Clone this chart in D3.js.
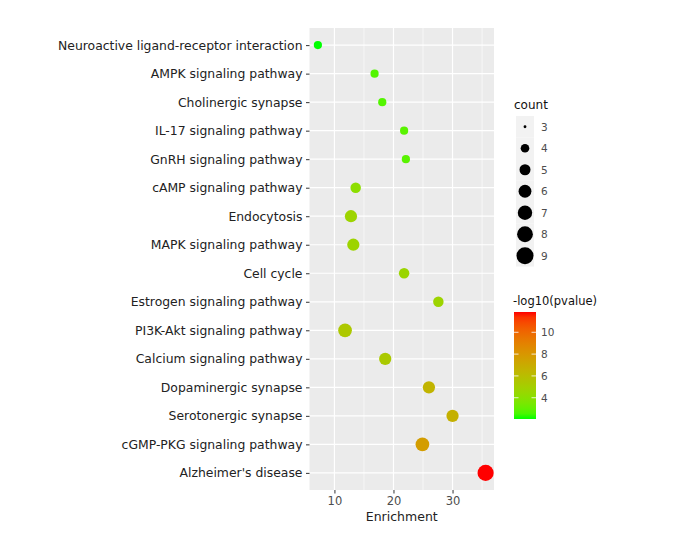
<!DOCTYPE html>
<html>
<head>
<meta charset="utf-8">
<script src="https://cdn.jsdelivr.net/npm/d3@7"></script>
<style>
html,body{margin:0;padding:0;background:#fff;}
svg{display:block;font-family:"DejaVu Sans",sans-serif;}
</style>
</head>
<body>
<svg id="chart" width="700" height="545"></svg>
<script>
// ---- data ----
const pathways = [
  "Neuroactive ligand-receptor interaction",
  "AMPK signaling pathway",
  "Cholinergic synapse",
  "IL-17 signaling pathway",
  "GnRH signaling pathway",
  "cAMP signaling pathway",
  "Endocytosis",
  "MAPK signaling pathway",
  "Cell cycle",
  "Estrogen signaling pathway",
  "PI3K-Akt signaling pathway",
  "Calcium signaling pathway",
  "Dopaminergic synapse",
  "Serotonergic synapse",
  "cGMP-PKG signaling pathway",
  "Alzheimer's disease"
];
const enrichment = [7.2, 16.8, 18.1, 21.8, 22.1, 13.6, 12.8, 13.2, 21.8, 27.6, 11.8, 18.6, 26.0, 30.0, 24.9, 35.6];
const counts     = [4, 4, 4, 4, 4, 5, 6, 6, 5, 5, 7, 6, 6, 6, 7, 9];
const neglogp    = [2.05, 2.7, 2.7, 2.8, 2.8, 4.1, 4.7, 4.7, 4.6, 4.7, 5.4, 5.3, 6.5, 6.7, 7.7, 11.86];
const xTicks     = [10, 20, 30];
const countBreaks = [3, 4, 5, 6, 7, 8, 9];
const colorBreaks = [4, 6, 8, 10];

const svg = d3.select("#chart");
const panel = {left: 309.5, right: 494, top: 28, bottom: 490};

// x scale with 5% expansion
const ext = d3.extent(enrichment);
const pad = (ext[1] - ext[0]) * 0.05;
const x = d3.scaleLinear().domain([ext[0] - pad, ext[1] + pad]).range([panel.left, panel.right]);
const y = d3.scalePoint().domain(pathways).range([panel.top, panel.bottom]).padding(0.6);

// size: area palette like ggplot (range 1..6)
const sizeRange = [3, 9];
const sizeOf = c => 1 + 5 * Math.sqrt((c - sizeRange[0]) / (sizeRange[1] - sizeRange[0]));
const radius = c => sizeOf(c) * 1.35;

const cExt = d3.extent(neglogp);
const color = d3.scaleLinear().domain(cExt).range(["#00ff00", "#ff0000"]).interpolate(d3.interpolateLab);

// panel background
svg.append("rect").attr("x", panel.left).attr("y", panel.top)
  .attr("width", panel.right - panel.left).attr("height", panel.bottom - panel.top)
  .attr("fill", "#EBEBEB");

// minor grid
const minor = [5, 15, 25, 35].filter(v => v >= x.domain()[0] && v <= x.domain()[1]);
svg.append("g").selectAll("line").data(minor).join("line")
  .attr("x1", d => x(d)).attr("x2", d => x(d)).attr("y1", panel.top).attr("y2", panel.bottom)
  .attr("stroke", "#fff").attr("stroke-width", 0.6);
// major grid
svg.append("g").selectAll("line").data(xTicks).join("line")
  .attr("x1", d => x(d)).attr("x2", d => x(d)).attr("y1", panel.top).attr("y2", panel.bottom)
  .attr("stroke", "#fff").attr("stroke-width", 1.2);
svg.append("g").selectAll("line").data(pathways).join("line")
  .attr("x1", panel.left).attr("x2", panel.right).attr("y1", d => y(d)).attr("y2", d => y(d))
  .attr("stroke", "#fff").attr("stroke-width", 1.2);

// axes
const xAxis = svg.append("g").attr("transform", `translate(0,${panel.bottom})`)
  .call(d3.axisBottom(x).tickValues(xTicks).tickSize(3.5).tickPadding(3));
xAxis.select(".domain").remove();
xAxis.selectAll("line").attr("stroke", "#333");
xAxis.selectAll("text").attr("fill", "#4D4D4D").style("font-size", "11.5px")
  .style("font-family", "DejaVu Sans");

const yAxis = svg.append("g").attr("transform", `translate(${panel.left},0)`)
  .call(d3.axisLeft(y).tickSize(3.5).tickPadding(3.5));
yAxis.select(".domain").remove();
yAxis.selectAll("line").attr("stroke", "#333");
yAxis.selectAll("text").attr("fill", "#222").style("font-size", "12.4px")
  .style("font-family", "DejaVu Sans");

// x label
svg.append("text").attr("x", (panel.left + panel.right) / 2).attr("y", 521)
  .attr("text-anchor", "middle").attr("fill", "#222").style("font-size", "12.5px")
  .text("Enrichment");

// points
const data = pathways.map((p, i) => ({p, e: enrichment[i], c: counts[i], v: neglogp[i]}));
svg.append("g").selectAll("circle").data(data).join("circle")
  .attr("cx", d => x(d.e)).attr("cy", d => y(d.p)).attr("r", d => radius(d.c))
  .attr("fill", d => color(d.v));

// size legend
const lg = svg.append("g");
lg.append("text").attr("x", 514).attr("y", 109).attr("fill", "#111").style("font-size", "12px").text("count");
const keyH = 21.5, keyTop = 116;
countBreaks.forEach((c, i) => {
  const cy = keyTop + keyH * i + keyH / 2;
  lg.append("rect").attr("x", 516).attr("y", keyTop + keyH * i).attr("width", 18).attr("height", keyH)
    .attr("fill", "#F2F2F2");
  lg.append("circle").attr("cx", 525).attr("cy", cy).attr("r", radius(c) * 1.05).attr("fill", "#000");
  lg.append("text").attr("x", 541).attr("y", cy + 4).attr("fill", "#4D4D4D").style("font-size", "10.5px").text(c);
});

// color legend
const cb = {x: 514, w: 22, top: 312, bottom: 419};
svg.append("text").attr("x", 513).attr("y", 305).attr("fill", "#111").style("font-size", "11.5px").text("-log10(pvalue)");
const defs = svg.append("defs");
const grad = defs.append("linearGradient").attr("id", "cg").attr("x1", 0).attr("y1", 1).attr("x2", 0).attr("y2", 0);
d3.range(0, 1.0001, 0.05).forEach(t => {
  grad.append("stop").attr("offset", t).attr("stop-color", color(cExt[0] + t * (cExt[1] - cExt[0])));
});
svg.append("rect").attr("x", cb.x).attr("y", cb.top).attr("width", cb.w).attr("height", cb.bottom - cb.top)
  .attr("fill", "url(#cg)");
const cy = d3.scaleLinear().domain(cExt).range([cb.bottom, cb.top]);
colorBreaks.forEach(v => {
  svg.append("line").attr("x1", cb.x).attr("x2", cb.x + 4.5).attr("y1", cy(v)).attr("y2", cy(v))
    .attr("stroke", "#fff").attr("stroke-width", 0.8);
  svg.append("line").attr("x1", cb.x + cb.w - 4.5).attr("x2", cb.x + cb.w).attr("y1", cy(v)).attr("y2", cy(v))
    .attr("stroke", "#fff").attr("stroke-width", 0.8);
  svg.append("text").attr("x", 541).attr("y", cy(v) + 4).attr("fill", "#4D4D4D").style("font-size", "10.5px").text(v);
});
</script>
</body>
</html>
